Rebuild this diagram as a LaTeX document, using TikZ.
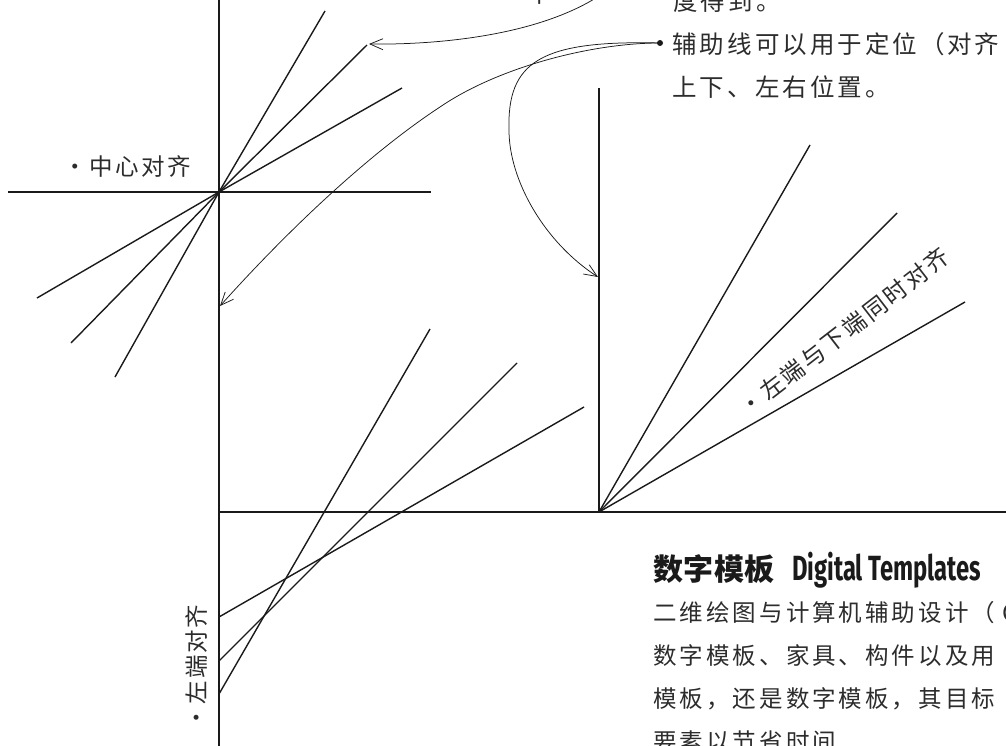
\documentclass[tikz,border=0pt]{standalone}
\usepackage{fontspec}
\usetikzlibrary{arrows.meta}
\newfontfamily\cjk{Noto Sans CJK SC}
\newfontfamily\titlelat{Fira Sans}[FakeStretch=0.68]
\definecolor{ink}{HTML}{1A1A1A}
\definecolor{txt}{HTML}{2C2C2C}
\makeatletter
\newcommand\cells[2]{\@tfor\cj@c:=#2\do{\makebox[#1]{\cj@c}}}
\makeatother
\begin{document}
\begin{tikzpicture}[x=1pt,y=-1pt,
  guide/.style={draw=ink, line width=1.4pt},
  pointer/.style={draw=ink, line width=0.75pt, -{Straight Barb[length=13pt,width=11pt,line width=0.75pt]}},
  lbl/.style={inner sep=0pt, outer sep=0pt, text=txt, font=\cjk\fontsize{23.5}{23.5}\selectfont},
  toplbl/.style={lbl, font=\cjk\fontsize{24.5}{24.5}\selectfont},
]
\useasboundingbox (0,0) rectangle (1006,746);
\clip (0,0) rectangle (1006,746);

% ---- main guide lines
\coordinate (L1) at (219,-5);
\coordinate (L2) at (219,751);
\draw[guide] (L1) -- (L2);

% centre fan
\coordinate (C) at (219,192);
\coordinate (Ch1) at (8,192);
\coordinate (Ch2) at (431,192);
\draw[guide] (Ch1) -- (Ch2);
\coordinate (Ca1) at (325,11);  \coordinate (Cb1) at (115,377);
\coordinate (Ca2) at (367,45);  \coordinate (Cb2) at (71,343);
\coordinate (Ca3) at (402,88);  \coordinate (Cb3) at (37,298);
\draw[guide] (C) -- (Ca1); \draw[guide] (C) -- (Cb1);
\draw[guide] (C) -- (Ca2); \draw[guide] (C) -- (Cb2);
\draw[guide] (C) -- (Ca3); \draw[guide] (C) -- (Cb3);

% right fan (left + bottom aligned)
\coordinate (R) at (599,512);
\coordinate (Rv) at (599,88);
\coordinate (Hh1) at (219,512);
\coordinate (Hh2) at (1011,512);
\draw[guide] (R) -- (Rv);
\draw[guide] (Hh1) -- (Hh2);
\coordinate (Ra1) at (810,145);
\coordinate (Ra2) at (897,213);
\coordinate (Ra3) at (965,302);
\draw[guide] (R) -- (Ra1);
\draw[guide] (R) -- (Ra2);
\draw[guide] (R) -- (Ra3);

% left-aligned fan
\coordinate (Ls1) at (219,617); \coordinate (Le1) at (584,407);
\coordinate (Ls2) at (219,661); \coordinate (Le2) at (517,363);
\coordinate (Ls3) at (219,694); \coordinate (Le3) at (430,329);
\draw[guide] (Ls1) -- (Le1);
\draw[guide] (Ls2) -- (Le2);
\draw[guide] (Ls3) -- (Le3);

% ---- pointers
\node[circle, fill=ink, inner sep=0pt, minimum size=6pt] (dot) at (660,43) {};
\coordinate (a1src) at (620,-20);
\coordinate (a1tip) at (369,44);
\draw[pointer] (a1src) .. controls (560,35) and (440,45) .. (a1tip);
\coordinate (mA) at (440,107);
\coordinate (tipA) at (220,306);
\draw[pointer] (dot.center) .. controls (590,43) and (497,68) .. (mA) .. controls (370,153) and (290,228) .. (tipA);
\coordinate (mB) at (509,130);
\coordinate (tipB) at (598,277);
\draw[pointer] (dot.center) .. controls (540,40) and (507,62) .. (mB) .. controls (509,180) and (544,242) .. (tipB);

% ---- labels
\node[toplbl] (frag) at (540,-7) {中};
\node[toplbl, anchor=west] (t0) at (672,1) {\cells{27.5pt}{度得到。}};
\node[toplbl, anchor=west] (t1) at (671,44) {\cells{27.5pt}{辅助线可以用于定位（对齐}};
\node[toplbl, anchor=west] (t2) at (671,87) {\cells{27.5pt}{上下、左右位置。}};

\node[lbl, anchor=west] (lc) at (62,167) {\cells{26pt}{·中心对齐}};
\node[lbl, rotate=37.7] (diag) at (844,332) {\cells{26pt}{·左端与下端同时对齐}};
\node[lbl, rotate=90] (leftal) at (197,667) {\cells{25.3pt}{·左端对齐}};

\node[anchor=west, inner sep=0pt, text=ink] (title) at (653,570)
  {{\cjk\bfseries\fontsize{30}{30}\selectfont\cells{30.5pt}{数字模板}}\hspace{17pt}{\titlelat\bfseries\fontsize{35}{35}\selectfont Digital Templates}};
\node[lbl, anchor=west] (b1) at (652,613) {\cells{26.5pt}{二维绘图与计算机辅助设计（C}};
\node[lbl, anchor=west] (b2) at (652,656) {\cells{26.5pt}{数字模板、家具、构件以及用}};
\node[lbl, anchor=west] (b3) at (652,699) {\cells{26.5pt}{模板，还是数字模板，其目标}};
\node[lbl, anchor=west] (b4) at (652,742) {\cells{26.5pt}{要素以节省时间}};
\end{tikzpicture}
\end{document}
